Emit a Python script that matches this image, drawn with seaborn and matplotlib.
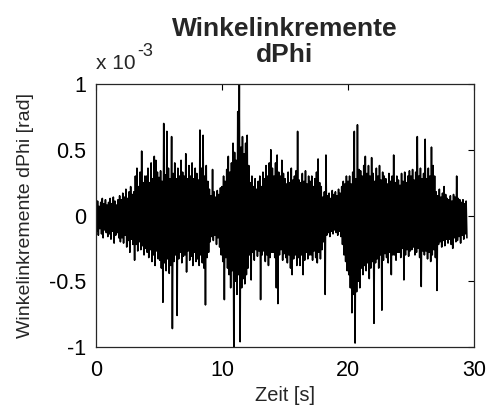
import numpy as np
import pandas as pd
import matplotlib
matplotlib.use("Agg")
import matplotlib.pyplot as plt
import seaborn as sns

# Angle increments dPhi in units of 1e-3 rad, eight windows per second
# (one row per second). dphi_hi holds the upper excursion of each window,
# dphi_lo the lower excursion that follows it.
dphi_hi = [
    .08, .11, .07, .10, .13, .09, .12, .08,
    .10, .13, .09, .14, .11, .08, .12, .15,
    .12, .17, .14, .20, .13, .18, .22, .16,
    .18, .30, .36, .22, .33, .49, .25, .30,
    .30, .36, .25, .40, .28, .45, .42, .33,
    .29, .34, .26, .70, .31, .64, .36, .28,
    .60, .32, .40, .28, .36, .30, .42, .33,
    .30, .47, .28, .38, .30, .40, .28, .36,
    .32, .27, .65, .36, .61, .30, .38, .26,
    .20, .15, .35, .18, .14, .19, .16, .21,
    .22, .30, .26, .35, .45, .33, .40, .55,
    .48, .42, .79, 1.00, .52, .60, .47, .55,
    .61, .38, .25, .30, .22, .28, .20, .26,
    .30, .22, .33, .28, .38, .30, .40, .50,
    .36, .30, .40, .46, .33, .30, .42, .32,
    .28, .24, .33, .25, .36, .27, .30, .34,
    .64, .27, .25, .32, .26, .34, .24, .30,
    .26, .30, .22, .28, .33, .43, .25, .22,
    .14, .18, .46, .15, .17, .13, .19, .16,
    .18, .15, .20, .17, .22, .26, .24, .30,
    .26, .30, .24, .33, .64, .28, .69, .35,
    .34, .30, .38, .45, .32, .38, .30, .44,
    .32, .26, .36, .30, .38, .27, .33, .30,
    .28, .24, .32, .26, .30, .46, .25, .30,
    .27, .23, .32, .26, .33, .25, .30, .34,
    .30, .35, .27, .33, .60, .30, .36, .28,
    .32, .58, .28, .36, .30, .52, .38, .30,
    .18, .15, .20, .14, .17, .22, .16, .13,
    .12, .15, .11, .16, .14, .30, .13, .12,
    .10, .12, .09, .11,
]
dphi_lo = [
    -.12, -.15, -.10, -.14, -.17, -.11, -.13, -.16,
    -.14, -.18, -.12, -.21, -.15, -.13, -.17, -.20,
    -.17, -.21, -.15, -.24, -.19, -.28, -.18, -.22,
    -.34, -.22, -.27, -.20, -.26, -.23, -.30, -.25,
    -.28, -.32, -.26, -.35, -.30, -.38, -.27, -.33,
    -.34, -.40, -.66, -.36, -.42, -.33, -.44, -.38,
    -.86, -.35, -.30, -.76, -.33, -.28, -.36, -.31,
    -.30, -.43, -.27, -.34, -.31, -.38, -.28, -.35,
    -.33, -.38, -.30, -.36, -.40, -.68, -.32, -.28,
    -.20, -.16, -.19, -.15, -.22, -.17, -.24, -.30,
    -.35, -.64, -.32, -.40, -.45, -.55, -.42, -1.00,
    -.50, -.60, -.45, -.96, -.55, -.48, -.52, -.45,
    -.40, -.30, -.49, -.28, -.34, -.26, -.31, -.27,
    -.64, -.30, -.27, -.35, -.30, -.38, -.32, -.28,
    -.28, -.32, -.55, -.67, -.30, -.26, -.34, -.29,
    -.32, -.36, -.30, -.40, -.45, -.33, -.30, -.38,
    -.32, -.38, -.30, -.45, -.34, -.28, -.33, -.30,
    -.30, -.34, -.27, -.32, -.36, -.28, -.33, -.26,
    -.20, -.60, -.15, -.13, -.16, -.12, -.14, -.11,
    -.13, -.15, -.12, -.16, -.22, -.30, -.35, -.42,
    -.45, -.55, -.74, -.60, -.97, -.58, -.50, -.55,
    -.40, -.45, -.38, -.42, -.36, -.48, -.40, -.35,
    -.82, -.36, -.33, -.40, -.30, -.72, -.34, -.29,
    -.32, -.36, -.28, -.45, -.30, -.30, -.34, -.28,
    -.28, -.32, -.25, -.49, -.30, -.26, -.31, -.27,
    -.26, -.24, -.30, -.28, -.25, -.32, -.54, -.27,
    -.30, -.27, -.33, -.28, -.35, -.30, -.26, -.32,
    -.57, -.22, -.20, -.24, -.19, -.23, -.18, -.21,
    -.18, -.22, -.25, -.17, -.20, -.19, -.16, -.21,
    -.15, -.18, -.14, -.17,
]
window_s = 0.125

x_ticks = [0, 10, 20, 30]
y_ticks = [-1, -0.5, 0, 0.5, 1]
y_tick_labels = ["-1", "-0.5", "0", "0.5", "1"]

# Interleave the excursions into one trace: upper value at the window start,
# lower value half a window later.
n = len(dphi_hi)
t_hi = np.arange(n) * window_s
t_lo = t_hi + window_s / 2
trace = pd.DataFrame({
    "Zeit": np.column_stack([t_hi, t_lo]).ravel(),
    "dPhi": np.column_stack([dphi_hi, dphi_lo]).ravel(),
})

sns.set_style("white")
plt.rcParams["font.family"] = ["Liberation Sans", "DejaVu Sans"]

fig = plt.figure(figsize=(4.89, 4.13), dpi=100)
ax = fig.add_axes([96 / 489, 1 - 347 / 413, 378 / 489, 263 / 413])

sns.lineplot(data=trace, x="Zeit", y="dPhi", ax=ax, color="black",
             linewidth=1.15, estimator=None, sort=False)

ax.set_xlim(0, 30)
ax.set_ylim(-1, 1)
ax.set_xticks(x_ticks)
ax.set_xticklabels([str(v) for v in x_ticks])
ax.set_yticks(y_ticks)
ax.set_yticklabels(y_tick_labels)
ax.tick_params(axis="both", direction="in", length=4, width=0.8,
               top=True, right=True, labelsize=15.5, colors="black", pad=7)
ax.tick_params(axis="x", pad=9)
for sp in ax.spines.values():
    sp.set_visible(True)
    sp.set_color("#262626")
    sp.set_linewidth(0.9)

ax.set_xlabel("Zeit [s]", fontsize=14.4, labelpad=4)
ax.set_ylabel("Winkelinkremente dPhi [rad]", fontsize=14, labelpad=11)
ax.set_title("Winkelinkremente\ndPhi", fontsize=19, fontweight="bold",
             linespacing=1.1, pad=16)

# Scale factor of the y axis, written MATLAB-style above the axis.
base = ax.text(0.0, 1.04, "x 10", transform=ax.transAxes,
               fontsize=15, ha="left", va="bottom")
ax.annotate("-3", xy=(1.0, 1.0), xycoords=base, xytext=(1, -4),
            textcoords="offset points", fontsize=13, ha="left", va="bottom")

fig.savefig("out.png", dpi=100, facecolor="white")
